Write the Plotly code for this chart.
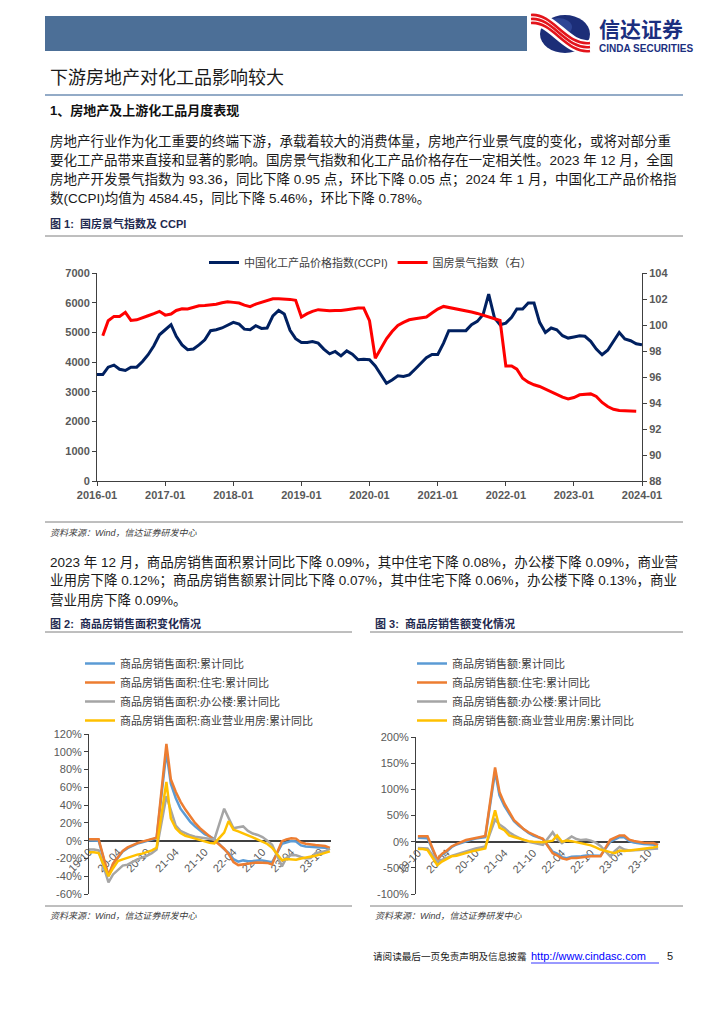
import plotly.graph_objects as go
import pandas as pd

# The page body has an 8px margin in the browser: map reference pixels onto the figure.
OFF = 8
W, H = 708, 1000
def px(x): return (x - OFF) / W
def py(y): return 1 - (y - OFF) / H

# ---------------- Figure 1 data ----------------
ccpi_months = pd.date_range("2016-01-01", "2024-01-01", freq="MS")
ccpi = [
    3580, 3580, 3830, 3900, 3760, 3720, 3830, 3830, 4020, 4250, 4550, 4920,
    5090, 5260, 4870, 4580, 4420, 4440, 4580, 4750, 5060, 5090, 5150, 5250,
    5340, 5280, 5110, 5090, 5225, 5135, 5150, 5560, 5740, 5620, 5070, 4790,
    4660, 4660, 4690, 4640, 4440, 4280, 4360, 4210, 4380, 4270, 4080, 4100,
    4080, 3870, 3570, 3290, 3400, 3540, 3520, 3570, 3760, 3940, 4150, 4260,
    4260, 4640, 5060, 5060, 5060, 5060, 5260, 5370, 5600, 6290, 5490, 5260,
    5315, 5510, 5790, 5790, 5990, 5990, 5340, 5000, 5150, 5090, 4890, 4810,
    4849, 4890, 4870, 4700, 4440, 4250, 4400, 4700, 5000, 4780, 4720, 4620,
    4584.45,
]
climate_months = pd.date_range("2016-02-01", "2023-12-01", freq="MS")
climate = [
    99.17, 100.33, 100.66, 100.66, 100.97, 100.35, 100.4, 100.53, 100.71, 100.87, 101.05,
    100.76, 100.84, 101.12, 101.25, 101.23, 101.38, 101.48, 101.5, 101.53, 101.6, 101.71, 101.79,
    101.74, 101.69, 101.53, 101.41, 101.61, 101.74, 101.9, 102.02, 102.02, 102.0, 101.97, 101.9,
    100.61, 100.87, 101.05, 101.18, 101.12, 101.1, 101.12, 101.12, 101.18, 101.25, 101.3, 101.3,
    100.33, 97.45, 98.22, 98.94, 99.5, 99.97, 100.2, 100.4, 100.48, 100.53, 100.61, 100.92,
    101.23, 101.43, 101.35, 101.3, 101.18, 101.1, 101.0, 100.89, 100.76, 100.66, 100.53, 100.35,
    96.85, 96.85, 96.6, 95.9, 95.6, 95.4, 95.27, 95.06, 94.88, 94.68, 94.45, 94.31,
    94.42, 94.63, 94.68, 94.7, 94.5, 94.04, 93.73, 93.52, 93.42, 93.39, 93.41, 93.36,
]
fig1_xtick_vals = ["2016-01-01", "2017-01-01", "2018-01-01", "2019-01-01", "2020-01-01",
                   "2021-01-01", "2022-01-01", "2023-01-01", "2024-01-01"]
fig1_xtick_text = ["2016-01", "2017-01", "2018-01", "2019-01", "2020-01",
                   "2021-01", "2022-01", "2023-01", "2024-01"]
fig1_left_ticks = [0, 1000, 2000, 3000, 4000, 5000, 6000, 7000]
fig1_right_ticks = [88, 90, 92, 94, 96, 98, 100, 102, 104]

# ---------------- Figure 2 / 3 data ----------------
sales_months = [
    "2019-10-01", "2019-11-01", "2019-12-01",
    "2020-02-01", "2020-03-01", "2020-04-01", "2020-05-01", "2020-06-01", "2020-07-01",
    "2020-08-01", "2020-09-01", "2020-10-01", "2020-11-01", "2020-12-01",
    "2021-02-01", "2021-03-01", "2021-04-01", "2021-05-01", "2021-06-01", "2021-07-01",
    "2021-08-01", "2021-09-01", "2021-10-01", "2021-11-01", "2021-12-01",
    "2022-02-01", "2022-03-01", "2022-04-01", "2022-05-01", "2022-06-01", "2022-07-01",
    "2022-08-01", "2022-09-01", "2022-10-01", "2022-11-01", "2022-12-01",
    "2023-02-01", "2023-03-01", "2023-04-01", "2023-05-01", "2023-06-01", "2023-07-01",
    "2023-08-01", "2023-09-01", "2023-10-01", "2023-11-01", "2023-12-01",
]
area_total = [0.1, 0.2, -0.1,
              -39.9, -26.3, -19.3, -12.3, -8.4, -5.8, -3.3, -1.8, 0.0, 1.3, 2.6,
              100.0, 64.0, 48.0, 36.0, 28.0, 21.5, 16.0, 11.3, 7.3, 4.8, 1.9,
              -9.6, -13.8, -20.9, -23.6, -22.2, -23.1, -23.0, -22.2, -22.3, -23.3, -24.3,
              -3.6, -1.8, -0.4, -0.9, -5.3, -6.5, -7.1, -7.5, -7.8, -8.0, -8.5]
area_house = [1.5, 1.5, 1.5,
              -39.2, -25.9, -18.3, -11.6, -7.6, -4.9, -2.7, -1.1, 0.4, 1.6, 3.2,
              109.0, 69.0, 55.0, 44.0, 35.0, 27.0, 20.0, 14.0, 9.5, 5.5, 1.1,
              -9.0, -15.0, -24.0, -27.5, -26.5, -25.5, -25.0, -24.5, -24.5, -25.0, -26.8,
              -0.5, 1.5, 2.8, 2.3, -2.0, -3.5, -4.5, -5.0, -5.5, -6.0, -8.2]
area_office = [-10.0, -10.0, -11.0,
               -47.0, -38.0, -33.0, -28.0, -27.0, -24.0, -21.0, -19.0, -17.0, -14.0, -10.0,
               50.0, 33.0, 17.0, 11.0, 8.0, 6.0, 4.5, 3.5, 2.5, 1.5, 1.2,
               36.0, 26.0, 14.0, 15.0, 16.0, 11.0, 8.0, 6.4, 4.0, 0.0, -4.5,
               -29.0, -19.5, -16.0, -16.5, -18.4, -20.0, -19.5, -14.0, -13.0, -12.0, -9.0]
area_shop = [-13.0, -13.0, -14.0,
             -40.0, -31.0, -23.0, -21.0, -19.0, -17.6, -15.7, -14.6, -13.0, -11.0, -8.0,
             66.0, 25.0, 14.0, 8.5, 5.5, 4.0, 2.5, 1.0, -1.0, -2.5, -3.0,
             9.0, 22.0, 12.4, 10.5, 8.6, 6.0, 3.7, 1.0, -1.0, -3.7, -8.0,
             -22.0, -20.6, -20.6, -21.4, -20.0, -19.0, -18.4, -17.0, -15.4, -13.5, -12.0]

amount_total = [7.3, 7.3, 6.5,
                -35.9, -24.7, -18.6, -10.6, -5.4, -2.1, 1.6, 3.7, 5.8, 7.2, 8.7,
                133.4, 88.5, 68.2, 52.4, 38.9, 30.7, 22.8, 16.6, 11.8, 8.0, 4.8,
                -19.3, -22.7, -29.5, -31.5, -28.9, -28.8, -27.9, -26.3, -26.1, -26.6, -26.7,
                -0.1, 4.1, 8.8, 8.4, 1.1, -1.5, -3.2, -4.6, -4.9, -5.2, -6.5]
amount_house = [10.3, 10.7, 10.3,
                -34.7, -23.2, -17.2, -9.1, -4.6, -0.6, 3.1, 5.2, 7.5, 9.0, 10.8,
                142.0, 95.0, 73.0, 57.0, 41.0, 33.0, 24.0, 18.0, 13.0, 9.0, 5.3,
                -22.0, -26.0, -32.0, -34.0, -31.0, -31.0, -30.0, -28.0, -28.0, -28.0, -28.0,
                3.5, 7.5, 11.8, 11.9, 3.7, 1.3, -0.7, -2.1, -2.5, -2.6, -6.0]
amount_office = [-12.0, -12.0, -13.0,
                 -38.0, -35.0, -31.0, -27.0, -24.0, -21.0, -18.0, -15.0, -13.0, -11.0, -9.0,
                 42.0, 33.0, 26.0, 18.0, 12.0, 7.0, 3.0, 0.0, -2.0, -4.0, -6.0,
                 18.0, 5.0, -3.0, 3.0, 10.0, 5.0, 3.0, 4.0, 2.0, -2.0, -8.0,
                 -28.0, -18.0, -10.0, -15.0, -17.0, -17.0, -16.0, -15.0, -14.0, -13.0, -13.0]
amount_shop = [-14.0, -14.0, -16.0,
               -45.0, -38.0, -33.0, -28.0, -27.0, -24.0, -21.0, -19.0, -17.0, -15.0, -13.0,
               60.0, 27.0, 22.0, 12.0, 9.0, 6.0, 3.0, 1.0, 0.0, -1.0, -1.0,
               2.0, 12.0, 0.0, 2.0, 1.0, -1.0, -3.0, -5.0, -7.0, -11.0, -15.0,
               -20.0, -22.0, -17.0, -18.0, -17.0, -16.0, -15.0, -14.0, -13.0, -11.0, -9.0]

sales_xtick_vals = ["2019-10-01", "2020-04-01", "2020-10-01", "2021-04-01", "2021-10-01",
                    "2022-04-01", "2022-10-01", "2023-04-01", "2023-10-01"]
sales_xtick_text = ["19-10", "20-04", "20-10", "21-04", "21-10", "22-04", "22-10", "23-04", "23-10"]
fig2_yticks = [-60, -40, -20, 0, 20, 40, 60, 80, 100, 120]
fig3_yticks = [-100, -50, 0, 50, 100, 150, 200]

area_names = ["商品房销售面积:累计同比", "商品房销售面积:住宅:累计同比",
              "商品房销售面积:办公楼:累计同比", "商品房销售面积:商业营业用房:累计同比"]
amount_names = ["商品房销售额:累计同比", "商品房销售额:住宅:累计同比",
                "商品房销售额:办公楼:累计同比", "商品房销售额:商业营业用房:累计同比"]
series_colors = ["#5B9BD5", "#ED7D31", "#A5A5A5", "#FFC000"]

# ---------------- styles ----------------
CJK = "Liberation Sans, Noto Sans CJK SC, sans-serif"
NUM = "Liberation Sans, Arial, sans-serif"
AXC = "#404040"
TXC = "#595959"

fig = go.Figure()

fig.add_trace(go.Scatter(x=ccpi_months, y=ccpi, mode="lines", name="中国化工产品价格指数(CCPI)",
                         line=dict(color="#002060", width=3), xaxis="x", yaxis="y", legend="legend"))
fig.add_trace(go.Scatter(x=climate_months, y=climate, mode="lines", name="国房景气指数（右）",
                         line=dict(color="#FF0000", width=3), xaxis="x", yaxis="y2", legend="legend"))

for name, vals, col in zip(area_names, [area_total, area_house, area_office, area_shop], series_colors):
    fig.add_trace(go.Scatter(x=sales_months, y=vals, mode="lines", name=name,
                             line=dict(color=col, width=2.5), xaxis="x2", yaxis="y3", legend="legend2"))
for name, vals, col in zip(amount_names, [amount_total, amount_house, amount_office, amount_shop], series_colors):
    fig.add_trace(go.Scatter(x=sales_months, y=vals, mode="lines", name=name,
                             line=dict(color=col, width=2.5), xaxis="x3", yaxis="y4", legend="legend3"))

# axis geometry (reference pixels)
f1_x0, f1_x1, f1_y0, f1_y1 = 97, 642, 273, 481
f2_x0, f2_x1, f2_y0, f2_y1 = 89, 331, 734, 894
f3_x0, f3_x1, f3_y0, f3_y1 = 416, 660, 737, 894

def zero_pos(ytop, ybot, vmin, vmax):
    d0, d1 = py(ybot), py(ytop)
    return d0 + (0 - vmin) / (vmax - vmin) * (d1 - d0)

tick_font_bold = dict(family=NUM, size=11, color=TXC, weight="bold")
tick_font = dict(family=NUM, size=11, color=TXC)

fig.update_layout(
    width=W, height=H, autosize=False,
    margin=dict(l=0, r=0, t=0, b=0, pad=0, autoexpand=False),
    paper_bgcolor="white", plot_bgcolor="rgba(0,0,0,0)",
    showlegend=True,
    xaxis=dict(domain=[px(f1_x0), px(f1_x1)], anchor="y", type="date", automargin=False,
               range=["2016-01-01", "2024-01-01"], tickvals=fig1_xtick_vals, ticktext=fig1_xtick_text,
               ticks="outside", ticklen=4, tickcolor=AXC, showline=True, linecolor=AXC, linewidth=1,
               showgrid=False, zeroline=False, tickfont=tick_font_bold),
    yaxis=dict(domain=[py(f1_y1), py(f1_y0)], anchor="x", range=[0, 7000], automargin=False,
               tickvals=fig1_left_ticks, ticks="outside", ticklen=4, tickcolor=AXC,
               showline=True, linecolor=AXC, linewidth=1, showgrid=False, zeroline=False,
               tickfont=tick_font_bold),
    yaxis2=dict(overlaying="y", anchor="x", side="right", range=[88, 104], automargin=False,
                tickvals=fig1_right_ticks, ticks="outside", ticklen=4, tickcolor=AXC,
                showline=True, linecolor=AXC, linewidth=1, showgrid=False, zeroline=False,
                tickfont=tick_font_bold),
    xaxis2=dict(domain=[px(f2_x0), px(f2_x1)], anchor="free", automargin=False,
                position=zero_pos(f2_y0, f2_y1, -60, 120), type="date",
                range=["2019-10-01", "2023-12-08"], tickvals=sales_xtick_vals, ticktext=sales_xtick_text,
                tickangle=-45, ticks="", showline=True, linecolor=AXC, linewidth=1.5,
                showgrid=False, zeroline=False, tickfont=tick_font, layer="below traces"),
    yaxis3=dict(domain=[py(f2_y1), py(f2_y0)], anchor="x2", range=[-60, 120], automargin=False,
                tickvals=fig2_yticks, ticktext=[f"{v}%" for v in fig2_yticks],
                ticks="outside", ticklen=4, tickcolor=AXC, showline=True, linecolor=AXC,
                linewidth=1, showgrid=False, zeroline=False, tickfont=tick_font),
    xaxis3=dict(domain=[px(f3_x0), px(f3_x1)], anchor="free", automargin=False,
                position=zero_pos(f3_y0, f3_y1, -100, 200), type="date",
                range=["2019-09-19", "2023-12-13"], tickvals=sales_xtick_vals, ticktext=sales_xtick_text,
                tickangle=-45, ticks="", showline=True, linecolor=AXC, linewidth=1.5,
                showgrid=False, zeroline=False, tickfont=tick_font, layer="below traces"),
    yaxis4=dict(domain=[py(f3_y1), py(f3_y0)], anchor="x3", range=[-100, 200], automargin=False,
                tickvals=fig3_yticks, ticktext=[f"{v}%" for v in fig3_yticks],
                ticks="outside", ticklen=4, tickcolor=AXC, showline=True, linecolor=AXC,
                linewidth=1, showgrid=False, zeroline=False, tickfont=tick_font),
    legend=dict(orientation="h", x=px(204), y=py(248), xanchor="left", yanchor="top",
                font=dict(family=CJK, size=11, color="#404040"), bgcolor="rgba(0,0,0,0)",
                itemwidth=30, traceorder="normal"),
    legend2=dict(orientation="v", x=px(80), y=py(649), xanchor="left", yanchor="top",
                 font=dict(family=CJK, size=11, color="#404040"), bgcolor="rgba(0,0,0,0)",
                 itemwidth=30, tracegroupgap=0),
    legend3=dict(orientation="v", x=px(412), y=py(649), xanchor="left", yanchor="top",
                 font=dict(family=CJK, size=11, color="#404040"), bgcolor="rgba(0,0,0,0)",
                 itemwidth=30, tracegroupgap=0),
)

# ---------------- page text ----------------
ann = []
def txt(x, y, text, size=13.5, color="#1a1a1a", anchor="left", family=CJK, bold=False,
        yanchor="middle", pad=1):
    ann.append(dict(x=px(x), y=py(y), xref="paper", yref="paper", text=text, showarrow=False,
                    xanchor=anchor, yanchor=yanchor, borderpad=pad,
                    font=dict(family=family, size=size, color=color, weight="bold" if bold else "normal")))

NAVY = "#1F2A50"
txt(598, 42.5, "信达证券", size=21, color="#1B2F7F", bold=True, yanchor="bottom", pad=0)
txt(598, 42.5, "CINDA SECURITIES", size=10, color="#1B2F7F", bold=True, family=NUM,
    yanchor="top", pad=0)

txt(48, 78, "下游房地产对化工品影响较大", size=18, color="#1a1a1a")
txt(48, 111, "1、房地产及上游化工品月度表现", size=13, color="#111111", bold=True)
para1 = [
    "房地产行业作为化工重要的终端下游，承载着较大的消费体量，房地产行业景气度的变化，或将对部分重",
    "要化工产品带来直接和显著的影响。国房景气指数和化工产品价格存在一定相关性。2023 年 12 月，全国",
    "房地产开发景气指数为 93.36，同比下降 0.95 点，环比下降 0.05 点；2024 年 1 月，中国化工产品价格指",
    "数(CCPI)均值为 4584.45，同比下降 5.46%，环比下降 0.78%。",
]
for i, line in enumerate(para1):
    txt(48, 141 + i * 19.3, line)

txt(48, 224, "图 1:  国房景气指数及 CCPI", size=11, color=NAVY, bold=True)
txt(48, 533, "<i>资料来源：Wind，信达证券研发中心</i>", size=9, color="#404040")

para2 = [
    "2023 年 12 月，商品房销售面积累计同比下降 0.09%，其中住宅下降 0.08%，办公楼下降 0.09%，商业营",
    "业用房下降 0.12%；商品房销售额累计同比下降 0.07%，其中住宅下降 0.06%，办公楼下降 0.13%，商业",
    "营业用房下降 0.09%。",
]
for i, line in enumerate(para2):
    txt(48, 562 + i * 19.3, line)

txt(48, 623, "图 2:  商品房销售面积变化情况", size=11, color=NAVY, bold=True)
txt(373, 623, "图 3:  商品房销售额变化情况", size=11, color=NAVY, bold=True)
txt(48, 916, "<i>资料来源：Wind，信达证券研发中心</i>", size=9, color="#404040")
txt(373, 916, "<i>资料来源：Wind，信达证券研发中心</i>", size=9, color="#404040")

txt(371, 956, "请阅读最后一页免责声明及信息披露", size=9.6, color="#1a1a1a")
txt(529, 956, "http://www.cindasc.com", size=11, color="#0000FF", family=NUM)
txt(665, 956, "5", size=11, color="#1a1a1a", family=NUM)

# ---------------- page shapes ----------------
shapes = []
def hline(x0, x1, y, color, w):
    shapes.append(dict(type="line", xref="paper", yref="paper", x0=px(x0), x1=px(x1),
                       y0=py(y), y1=py(y), line=dict(color=color, width=w)))

shapes.append(dict(type="rect", xref="paper", yref="paper", x0=px(45), x1=px(527),
                   y0=py(51), y1=py(16), fillcolor="#4C6F97", line=dict(width=0)))
shapes.append(dict(type="circle", xref="paper", yref="paper", x0=px(540), x1=px(590),
                   y0=py(53), y1=py(15), fillcolor="#1C2E78", line=dict(width=0)))
shapes.append(dict(type="circle", xref="paper", yref="paper", x0=px(545), x1=px(572),
                   y0=py(36), y1=py(18), fillcolor="#3B55A8", line=dict(width=0), opacity=0.6))
def curve(dy, color, w):
    p = (f"M {px(531)},{py(19 + dy)} C {px(553)},{py(17 + dy)} {px(566)},{py(50 + dy)} "
         f"{px(590)},{py(47 + dy)}")
    shapes.append(dict(type="path", xref="paper", yref="paper", path=p, line=dict(color=color, width=w)))
curve(0, "white", 14)
for d in (-4, 0, 4):
    curve(d, "#E3141B", 2.6)

hline(45, 683, 95, "#6F8FB5", 1.5)
hline(45, 683, 236, "#7F7F7F", 1)
hline(45, 683, 522, "#7F7F7F", 1)
hline(45, 352, 632, "#7F7F7F", 1)
hline(370, 683, 632, "#7F7F7F", 1)
hline(45, 352, 906, "#7F7F7F", 1)
hline(370, 683, 906, "#7F7F7F", 1)
hline(531, 659, 963, "#0000FF", 0.8)

fig.update_layout(annotations=ann, shapes=shapes)
fig.write_html("out.html")
